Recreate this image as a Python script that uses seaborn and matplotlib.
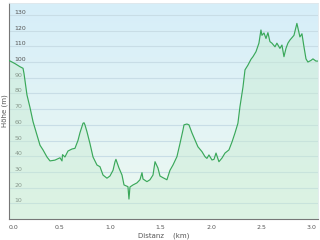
import numpy as np
import pandas as pd
import matplotlib
matplotlib.use("Agg")
import matplotlib.pyplot as plt
import seaborn as sns
from matplotlib.colors import LinearSegmentedColormap

# distance (km) and elevation (m)
distance_km = [0.000, 0.059, 0.109, 0.139, 0.149, 0.178, 0.208, 0.238, 0.277, 0.307,
               0.337, 0.376, 0.406, 0.455, 0.505, 0.525, 0.530, 0.554, 0.584, 0.624,
               0.653, 0.683, 0.703, 0.733, 0.743, 0.752, 0.772, 0.802, 0.832, 0.871,
               0.901, 0.931, 0.970, 1.000, 1.030, 1.050, 1.059, 1.089, 1.119, 1.139,
               1.178, 1.188, 1.198, 1.228, 1.267, 1.297, 1.317, 1.327, 1.366, 1.396,
               1.426, 1.446, 1.475, 1.495, 1.525, 1.564, 1.594, 1.624, 1.663, 1.693,
               1.723, 1.733, 1.762, 1.782, 1.812, 1.842, 1.871, 1.911, 1.941, 1.960,
               1.980, 2.010, 2.030, 2.050, 2.079, 2.109, 2.139, 2.178, 2.208, 2.238,
               2.267, 2.287, 2.317, 2.337, 2.366, 2.396, 2.416, 2.446, 2.475, 2.495,
               2.505, 2.525, 2.545, 2.564, 2.584, 2.604, 2.634, 2.653, 2.683, 2.703,
               2.723, 2.743, 2.762, 2.782, 2.822, 2.851, 2.881, 2.901, 2.921, 2.941,
               2.960, 2.990, 3.010, 3.040, 3.059]
elevation_m = [101.0, 99.0, 97.0, 96.0, 92.5, 79.0, 71.0, 62.0, 53.5, 47.0,
               44.0, 39.5, 37.0, 37.5, 39.0, 37.0, 41.0, 39.5, 43.3, 44.6,
               45.0, 50.0, 55.0, 61.0, 61.3, 60.0, 55.6, 48.0, 39.5, 34.4,
               33.3, 28.0, 26.0, 27.4, 31.0, 36.5, 38.0, 32.5, 28.0, 21.7,
               20.6, 12.7, 20.4, 21.7, 23.0, 25.0, 29.5, 25.5, 23.8, 25.0,
               28.0, 36.5, 32.5, 27.4, 26.3, 25.0, 31.0, 34.4, 39.7, 48.0,
               56.7, 60.0, 60.5, 60.0, 54.8, 50.3, 46.0, 42.9, 39.7, 38.6,
               40.8, 37.6, 38.0, 42.0, 36.5, 38.8, 42.0, 44.0, 49.0, 54.8,
               61.0, 71.5, 84.0, 95.0, 98.0, 101.7, 103.4, 106.6, 112.0, 120.4,
               117.0, 118.5, 115.0, 118.7, 113.0, 112.0, 109.7, 112.0, 108.7, 110.8,
               103.4, 108.7, 112.0, 114.0, 117.0, 124.6, 116.0, 118.0, 109.7, 102.0,
               100.0, 101.0, 102.0, 100.6, 100.6]
y_ticks = [10, 20, 30, 40, 50, 60, 70, 80, 90, 100, 110, 120, 130]
x_ticks = [0.0, 0.5, 1.0, 1.5, 2.0, 2.5, 3.0]
x_tick_labels = ["0.0", "0.5", "1.0", "1.5", "2.0", "2.5", "3.0"]

df = pd.DataFrame({"Distanz": distance_km, "Hoehe": elevation_m})

sns.set_style("white")
plt.rcParams["font.family"] = ["DejaVu Sans"]

fig = plt.figure(figsize=(3.2, 2.4), dpi=100)
fig.patch.set_facecolor("white")
ax = fig.add_axes([9 / 320, 1 - 219 / 240, 309 / 320, 216 / 240])

xmax, ymax = 3.06, 137.6
# background gradient: light blue top -> pale green bottom
cmap = LinearSegmentedColormap.from_list("bg", ["#eef9f1", "#d6eef9"])
grad = np.linspace(0, 1, 256).reshape(-1, 1)
ax.imshow(grad, cmap=cmap, aspect="auto", origin="lower",
          extent=[0, xmax, 0, ymax], zorder=0)

for t in y_ticks:
    ax.axhline(t, color="#c8dde6", lw=0.8, zorder=1)

ax.fill_between(df["Distanz"], df["Hoehe"], 0, color="#c8ecd2", alpha=0.45,
                lw=0, zorder=2)
sns.lineplot(data=df, x="Distanz", y="Hoehe", ax=ax, color="#3aa85a",
             lw=0.85, zorder=3, estimator=None, sort=False)

ax.set_xlim(0, xmax)
ax.set_ylim(0, ymax)
ax.set_yticks(y_ticks)
ax.set_yticklabels([str(t) for t in y_ticks])
ax.set_xticks(x_ticks)
ax.set_xticklabels(x_tick_labels)
ax.tick_params(axis="y", length=0, pad=-4, labelsize=4.5, colors="#555555")
for lab in ax.get_yticklabels():
    lab.set_horizontalalignment("left")
    lab.set_verticalalignment("bottom")
ax.tick_params(axis="x", length=2, width=0.5, pad=2, labelsize=4.5,
               colors="#555555", direction="out")
ax.get_xticklabels()[0].set_horizontalalignment("left")

ax.set_xlabel("Distanz    (km)", fontsize=5, color="#555555", labelpad=2)
ax.set_ylabel("Höhe (m)", fontsize=5, color="#555555", labelpad=1)

for side in ["left", "bottom"]:
    ax.spines[side].set_color("#777777")
    ax.spines[side].set_linewidth(0.8)
for side in ["top", "right"]:
    ax.spines[side].set_color("#e0e8ec")
    ax.spines[side].set_linewidth(0.6)

fig.savefig("out.png", dpi=100)
